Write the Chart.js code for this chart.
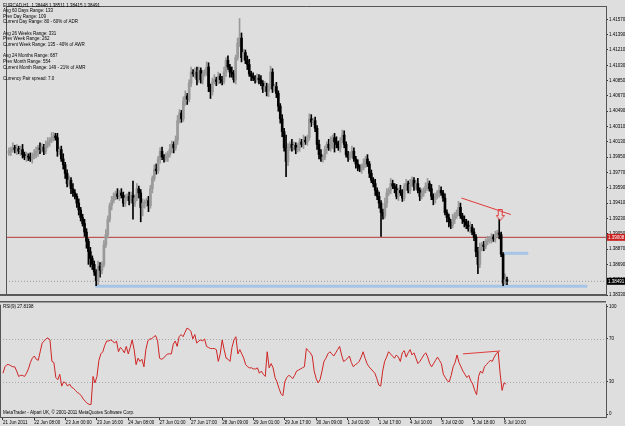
<!DOCTYPE html>
<html>
<head>
<meta charset="utf-8">
<script src="https://cdn.jsdelivr.net/npm/chart.js@4.4.0/dist/chart.umd.min.js"></script>
<style>
    html, body { margin: 0; padding: 0; background: #dedede; }
    #wrap { position: relative; width: 625px; height: 426px; overflow: hidden; background: #dedede; }
    canvas { position: absolute; left: 0; }
    #priceChart { top: 0; }
    #rsiChart { top: 301px; }
</style>
</head>
<body>
<div id="wrap">
    <canvas id="priceChart" width="625" height="301"></canvas>
    <canvas id="rsiChart" width="625" height="125"></canvas>
</div>
<script>
// EURCAD H1 candles (open = previous close)
const firstOpen = 1.4000;
const closes = [
    1.4002,1.4004,1.4006,1.4004,1.4005,1.4002,1.4004,1.3998,1.3995,1.3996,
    1.3995,1.3993,1.3996,1.3998,1.4002,1.4006,1.4004,1.4007,1.4002,1.4009,
    1.4013,1.4015,1.4018,1.4020,1.4018,1.4002,1.4004,1.3993,1.3986,1.3976,
    1.3964,1.3968,1.3958,1.3953,1.3949,1.3941,1.3933,1.3924,1.3917,1.3907,
    1.3896,1.3884,1.3876,1.3869,1.3860,1.3850,1.3867,1.3862,1.3869,1.3892,
    1.3904,1.3922,1.3938,1.3944,1.3949,1.3952,1.3949,1.3953,1.3950,1.3941,
    1.3947,1.3949,1.3944,1.3950,1.3941,1.3947,1.3958,1.3953,1.3936,1.3941,
    1.3941,1.3944,1.3938,1.3958,1.3970,1.3981,1.3979,1.3993,1.4002,1.3995,
    1.3993,1.3995,1.3998,1.4004,1.4010,1.4006,1.4015,1.4038,1.4047,1.4040,
    1.4061,1.4067,1.4063,1.4082,1.4095,1.4093,1.4095,1.4086,1.4097,1.4086,
    1.4093,1.4095,1.4101,1.4078,1.4072,1.4084,1.4086,1.4084,1.4090,1.4086,
    1.4084,1.4095,1.4109,1.4101,1.4095,1.4093,1.4086,1.4112,1.4129,1.4135,
    1.4112,1.4118,1.4109,1.4104,1.4093,1.4090,1.4088,1.4086,1.4088,1.4086,
    1.4082,1.4075,1.4078,1.4072,1.4078,1.4095,1.4075,1.4078,1.4070,1.4055,
    1.4040,1.4025,1.4006,1.3990,1.4006,1.4010,1.4006,1.4009,1.4004,1.4006,
    1.4013,1.4010,1.4015,1.4013,1.4018,1.4040,1.4036,1.4038,1.4029,1.4010,
    1.3998,1.3993,1.3995,1.4004,1.4010,1.4006,1.4015,1.4018,1.4013,1.4010,
    1.4006,1.4015,1.4021,1.4010,1.3998,1.3995,1.3998,1.4002,1.3993,1.3987,
    1.3983,1.3981,1.3983,1.3987,1.3993,1.3987,1.3976,1.3968,1.3964,1.3956,
    1.3949,1.3941,1.3930,1.3926,1.3941,1.3953,1.3956,1.3964,1.3961,1.3958,
    1.3949,1.3956,1.3953,1.3947,1.3961,1.3964,1.3956,1.3963,1.3968,1.3961,
    1.3964,1.3956,1.3949,1.3953,1.3956,1.3961,1.3964,1.3958,1.3949,1.3945,
    1.3949,1.3953,1.3956,1.3953,1.3947,1.3930,1.3924,1.3919,1.3915,1.3922,
    1.3926,1.3930,1.3936,1.3926,1.3922,1.3919,1.3915,1.3911,1.3913,1.3907,
    1.3901,1.3884,1.3869,1.3888,1.3892,1.3890,1.3896,1.3897,1.3899,1.3901,
    1.3899,1.3904,1.3906,1.3904,1.3881,1.3847,1.3851,1.38491
];
// shadow lengths in pips above / below the body
const wickUp = [
    4,3,6,3,5,3,4,6,3,5, 3,5,4,6,5,3,6,4,3,5, 5,3,6,4,3,5,3,4,6,3, 4,5,3,6,4,3,5,3,4,5,
    4,3,5,3,4,3,6,4,3,5, 6,4,3,5,4,3,6,3,5,4, 4,3,5,4,17,4,6,3,4,5, 4,3,5,4,3,5,6,3,4,5,
    3,5,4,6,4,3,5,6,4,3, 5,6,3,4,6,3,5,6,4,3, 4,3,6,5,3,4,6,3,5,3, 4,6,3,5,3,6,4,3,6,23,
    6,4,3,5,6,3,4,3,5,4, 5,3,6,4,3,7,4,3,5,3, 3,5,4,15,5,3,6,4,3,5, 4,3,6,4,3,6,5,3,4,3,
    5,6,3,4,3,6,4,3,5,6, 4,3,6,5,3,4,3,6,4,3, 5,3,4,6,3,5,3,4,3,5, 3,5,3,4,6,5,3,6,4,3,
    5,3,6,4,3,5,3,6,4,3, 4,6,3,5,3,4,6,3,5,3, 4,3,6,4,3,5,3,4,3,6, 4,3,7,5,3,4,3,5,6,3,
    4,3,5,6,3,4,3,5,3,4, 3,4,3,16,3,2,7,3
];
const wickDown = [
    3,5,3,4,6,3,5,4,3,5, 4,3,5,3,4,6,5,3,4,3, 3,5,3,4,3,6,4,3,5,6, 4,3,6,4,3,5,6,4,3,5,
    8,15,10,6,4,6,5,8,4,3, 3,4,3,5,3,4,3,5,3,4, 4,3,5,3,19,4,3,6,17,10, 6,4,7,3,5,3,4,3,5,3,
    4,3,5,3,4,6,3,5,3,4, 3,5,6,3,4,3,5,6,3,4, 5,3,4,6,8,4,3,5,3,4, 4,3,5,3,6,4,3,5,3,4,
    5,3,4,6,3,5,3,4,3,5, 3,4,3,5,6,3,4,3,5,6, 5,6,4,18,5,3,4,3,5,3, 4,3,5,3,4,3,5,3,4,6,
    5,3,4,3,5,3,4,10,12,4, 3,5,3,4,3,5,3,4,3,5, 4,3,5,3,4,3,5,3,4,6, 4,6,28,4,3,5,3,4,3,5,
    3,5,3,4,3,5,3,4,3,5, 4,3,5,3,4,3,5,3,4,6, 4,3,5,3,4,3,5,6,4,3, 5,3,4,3,5,6,4,3,5,3,
    4,6,11,4,3,5,3,4,3,5, 3,4,3,5,3,3,2,4
];
const rsiValues = [
    38,44,46,46,45,44,44,40,35,36, 36,35,38,42,48,52,54,51,50,58,
    66,68,70,71,69,49,48,34,32,37, 26,30,29,26,28,25,24,22,20,19,
    17,14,12,10,9,9,35,29,35,50, 56,58,64,68,68,69,68,66,68,58,
    62,60,57,63,56,62,69,60,46,52, 49,51,44,60,68,70,70,72,73,68,
    52,51,52,54,56,56,56,65,68,63, 72,74,72,76,80,79,77,70,74,66,
    68,69,68,70,63,62,61,61,61,60, 49,56,69,60,52,51,49,62,69,72,
    56,60,56,52,46,44,43,43,42,42, 43,38,40,37,35,58,43,47,43,34,
    30,24,19,17,30,34,36,35,33,36, 40,41,42,43,44,61,59,57,54,40,
    33,29,32,40,49,52,56,58,56,54, 57,60,63,55,49,50,52,54,48,44,
    46,47,49,53,58,52,47,44,42,40, 38,33,27,26,40,49,53,58,56,54,
    52,55,53,49,57,59,53,57,60,55, 57,52,47,49,52,55,57,53,47,44,
    47,50,53,50,47,37,34,31,30,36, 44,48,55,48,44,40,37,34,36,31,
    28,22,18,35,40,38,44,46,48,50, 49,53,56,58,38,22,29,27.82
];

const xLabels = ['21 Jun 2011', '22 Jun 08:00', '23 Jun 00:00', '23 Jun 16:00', '24 Jun 08:00',
    '27 Jun 01:00', '27 Jun 17:00', '28 Jun 09:00', '29 Jun 01:00', '29 Jun 17:00', '30 Jun 09:00',
    '1 Jul 01:00', '1 Jul 17:00', '4 Jul 10:00', '5 Jul 02:00', '5 Jul 18:00', '6 Jul 10:00'];
const barsPerLabel = 16;
const priceTicks = [1.38330, 1.38510, 1.38690, 1.38870, 1.39050, 1.39230, 1.39410, 1.39590, 1.39770,
    1.39950, 1.40130, 1.40310, 1.40490, 1.40670, 1.40850, 1.41030, 1.41210, 1.41390, 1.41570];
const rsiTicks = [0, 30, 70, 100];
const rsiLevels = [30, 70];

const lastPrice = 1.38491;
const redLevel = 1.39008;
const supportX = [44.5, 298.5];
const supportLevel = 1.38433;
const shortLevelX = [255, 268];
const shortLevel = 1.38820;
const trendX = [233.5, 259];
const trendY = [1.3947, 1.39276];
const arrowX = [253.5];
const arrowY = [1.3927];
const rsiTrendX = [235, 254];
const rsiTrendY = [56, 58.7];

const infoLines = [
    'EURCAD,H1  1.38448 1.38511 1.38415 1.38491',
    'Avg 60 Days Range: 133',
    'Prev Day Range: 109',
    'Current Day Range: 80 - 60% of ADR',
    '',
    'Avg 26 Weeks Range: 331',
    'Prev Week Range: 262',
    'Current Week Range: 135 - 40% of AWR',
    '',
    'Avg 24 Months Range: 687',
    'Prev Month Range: 554',
    'Current Month Range: 149 - 21% of AMR',
    '',
    'Currency Pair spread: 7.0'
];
const rsiTitle = 'RSI(9) 27.8198';
const copyright = 'MetaTrader - Alpari UK, \u00a9 2001-2011 MetaQuotes Software Corp.';

const FONT = "'Liberation Sans', Arial, sans-serif";
const tickFont = { size: 4.5, family: FONT };
const xMin = -1.53, xMax = 308.1;

// candle pieces
const opens = closes.map((c, i) => i === 0 ? firstOpen : closes[i - 1]);
const highs = closes.map((c, i) => Math.max(opens[i], c) + wickUp[i] * 0.0001);
const lows = closes.map((c, i) => Math.min(opens[i], c) - wickDown[i] * 0.0001);
const candleColors = closes.map((c, i) => c >= opens[i] ? '#9a9a9a' : '#000000');
const bodies = closes.map((c, i) => ({ x: i, y: [opens[i], c] }));
const shadows = closes.map((c, i) => ({ x: i, y: [lows[i], highs[i]] }));

function segment(xs, ys) {
    return xs.map((x, k) => ({ x: x, y: ys[k] }));
}

// outlined down arrow used as a point style
const arrowImg = document.createElement('canvas');
arrowImg.width = 9;
arrowImg.height = 12;
(function() {
    const a = arrowImg.getContext('2d');
    a.strokeStyle = '#e03a3a';
    a.lineWidth = 1;
    a.beginPath();
    a.moveTo(2.5, 0.5); a.lineTo(6.5, 0.5); a.lineTo(6.5, 6.5); a.lineTo(8.5, 6.5);
    a.lineTo(4.5, 11.5); a.lineTo(0.5, 6.5); a.lineTo(2.5, 6.5);
    a.closePath();
    a.stroke();
})();

const priceOverlay = {
    id: 'priceOverlay',
    afterDraw(chart) {
        const ctx = chart.ctx;
        const area = chart.chartArea;
        const y = chart.scales.y;
        ctx.save();
        // frame + separator
        ctx.strokeStyle = '#555';
        ctx.lineWidth = 1;
        ctx.beginPath();
        ctx.moveTo(area.left + 0.5, area.bottom);
        ctx.lineTo(area.left + 0.5, area.top + 0.5);
        ctx.lineTo(area.right, area.top + 0.5);
        ctx.stroke();
        ctx.fillStyle = '#5a5a5a';
        ctx.fillRect(0, area.bottom - 1, area.right, 2);
        // info text
        ctx.font = '4.5px ' + FONT;
        ctx.fillStyle = '#000';
        ctx.textBaseline = 'middle';
        infoLines.forEach((t, k) => ctx.fillText(t, 3, 5.3 + 5.65 * k));
        // price boxes on the axis
        [[redLevel, '#c81e1e'], [lastPrice, '#000']].forEach(([v, col]) => {
            const py = y.getPixelForValue(v);
            ctx.fillStyle = col;
            ctx.fillRect(area.right + 1, py - 3.5, 19, 7);
            ctx.fillStyle = '#fff';
            ctx.fillText(v.toFixed(5), area.right + 2, py);
        });
        ctx.restore();
    }
};

const rsiOverlay = {
    id: 'rsiOverlay',
    beforeDatasetsDraw(chart) {
        const ctx = chart.ctx;
        const area = chart.chartArea;
        const y = chart.scales.y;
        ctx.save();
        ctx.strokeStyle = '#a8a8a8';
        ctx.lineWidth = 1;
        ctx.setLineDash([1, 2]);
        rsiLevels.forEach(v => {
            const py = Math.round(y.getPixelForValue(v)) + 0.5;
            ctx.beginPath();
            ctx.moveTo(area.left, py);
            ctx.lineTo(area.right, py);
            ctx.stroke();
        });
        ctx.restore();
    },
    afterDraw(chart) {
        const ctx = chart.ctx;
        const area = chart.chartArea;
        ctx.save();
        ctx.fillStyle = '#5a5a5a';
        ctx.fillRect(0, 0, area.right, 1.5);
        ctx.strokeStyle = '#555';
        ctx.lineWidth = 1;
        ctx.beginPath();
        ctx.moveTo(area.left + 0.5, area.top);
        ctx.lineTo(area.left + 0.5, area.bottom);
        ctx.stroke();
        ctx.font = '4.5px ' + FONT;
        ctx.fillStyle = '#000';
        ctx.textBaseline = 'middle';
        ctx.fillText(rsiTitle, 3, 6);
        ctx.fillText(copyright, 3, 112);
        ctx.restore();
    }
};

const commonOptions = {
    responsive: false,
    maintainAspectRatio: false,
    devicePixelRatio: 1,
    animation: false,
    events: [],
    plugins: { legend: { display: false }, tooltip: { enabled: false } }
};

new Chart(document.getElementById('priceChart'), {
    type: 'bar',
    data: {
        datasets: [
            {
                type: 'line', data: segment(arrowX, arrowY), showLine: false,
                pointStyle: arrowImg, pointRadius: 5, order: 0
            },
            {
                type: 'line', data: segment(trendX, trendY), borderColor: '#e03a3a',
                borderWidth: 1, pointRadius: 0, order: 1
            },
            {
                data: bodies, backgroundColor: candleColors, barThickness: 2,
                minBarLength: 1, grouped: false, order: 2
            },
            {
                data: shadows, backgroundColor: candleColors, barThickness: 1,
                grouped: false, order: 3
            },
            {
                type: 'line', data: segment(supportX, [supportLevel, supportLevel]),
                borderColor: '#a6c4e4', borderWidth: 3, pointRadius: 0, order: 4
            },
            {
                type: 'line', data: segment(shortLevelX, [shortLevel, shortLevel]),
                borderColor: '#a6c4e4', borderWidth: 3, pointRadius: 0, order: 4
            },
            {
                type: 'line', data: segment([xMin, xMax], [redLevel, redLevel]),
                borderColor: '#b23a3a', borderWidth: 1, pointRadius: 0, order: 5
            },
            {
                type: 'line', data: segment([xMin, xMax], [lastPrice, lastPrice]),
                borderColor: '#9a9a9a', borderWidth: 1, borderDash: [1, 2], pointRadius: 0, order: 5
            }
        ]
    },
    options: Object.assign({}, commonOptions, {
        layout: { padding: { top: 2, bottom: 1, left: 0, right: 0 } },
        scales: {
            x: { type: 'linear', min: xMin, max: xMax, offset: false, display: false },
            y: {
                position: 'right',
                min: 1.3833,
                max: 1.41727,
                afterBuildTicks: function(scale) {
                    scale.ticks = priceTicks.map(v => ({ value: v }));
                },
                afterFit: function(scale) {
                    scale.width = 19;
                },
                ticks: {
                    font: tickFont,
                    color: '#000',
                    padding: 1,
                    callback: function(value) {
                        return value.toFixed(5);
                    }
                },
                grid: { drawOnChartArea: false, tickLength: 2, tickColor: '#333' },
                border: { color: '#555' }
            }
        }
    }),
    plugins: [priceOverlay]
});

new Chart(document.getElementById('rsiChart'), {
    type: 'line',
    data: {
        datasets: [
            {
                data: segment(rsiTrendX, rsiTrendY), borderColor: '#e03a3a',
                borderWidth: 1, pointRadius: 0
            },
            {
                data: rsiValues.map((v, i) => ({ x: i, y: v })), borderColor: '#d02424',
                borderWidth: 1, pointRadius: 0, tension: 0
            }
        ]
    },
    options: Object.assign({}, commonOptions, {
        layout: { padding: { top: 2, bottom: 0, left: 0, right: 0 } },
        scales: {
            x: {
                type: 'linear',
                min: xMin,
                max: xMax,
                offset: false,
                afterBuildTicks: function(scale) {
                    scale.ticks = xLabels.map((l, k) => ({ value: k * barsPerLabel }));
                },
                afterFit: function(scale) {
                    scale.height = 9;
                },
                ticks: {
                    font: tickFont,
                    color: '#000',
                    align: 'start',
                    maxRotation: 0,
                    autoSkip: false,
                    padding: 0,
                    callback: function(value, index) {
                        return xLabels[index];
                    }
                },
                grid: { drawOnChartArea: false, tickLength: 3, tickColor: '#333' },
                border: { color: '#555' }
            },
            y: {
                position: 'right',
                min: -2.75,
                max: 101.8,
                afterBuildTicks: function(scale) {
                    scale.ticks = rsiTicks.map(v => ({ value: v }));
                },
                afterFit: function(scale) {
                    scale.width = 19;
                },
                ticks: { font: tickFont, color: '#000', padding: 1 },
                grid: { drawOnChartArea: false, tickLength: 2, tickColor: '#333' },
                border: { color: '#555' }
            }
        }
    }),
    plugins: [rsiOverlay]
});
</script>
</body>
</html>
